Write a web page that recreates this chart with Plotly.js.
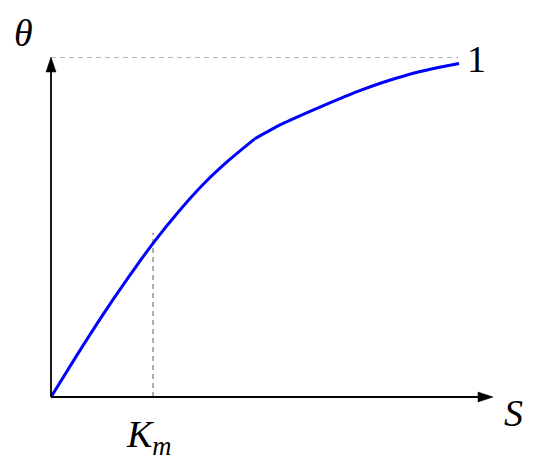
<!DOCTYPE html>
<html>
<head>
<meta charset="utf-8">
<script src="https://cdn.plot.ly/plotly-3.0.1.min.js"></script>
<style>html,body{margin:0;padding:0;background:#fff;}#chart{width:539px;height:468px;}</style>
</head>
<body>
<div id="chart"></div>
<script>
// Curve (S in units of Km, theta fraction); two pieces meeting at a corner at S = 2
var lowS      = [0, 0.25, 0.5, 0.75, 1.0, 1.25, 1.5, 1.75, 2.0];
var lowTheta  = [0, 0.121, 0.238, 0.348, 0.452, 0.545, 0.628, 0.698, 0.760];
var highS     = [2.0, 2.25, 2.5, 2.75, 3.0, 3.25, 3.5, 3.75, 4.0];
var highTheta = [0.760, 0.801, 0.835, 0.867, 0.898, 0.925, 0.948, 0.966, 0.981];
// guide lines
var kmS = [1.0, 1.0];
var kmTheta = [0, 0.482];
var oneS = [0, 3.99];
var oneTheta = [1, 1];
// axis extents
var xMax = 4.333;
var yMax = 1.0;

var serif = {family: 'Liberation Serif, DejaVu Serif, serif', size: 38, color: '#000'};
var guide = {color: '#6e6e6e', width: 1.1, dash: '5px,4px'};
var curve = {color: '#0000ff', width: 3, shape: 'spline', smoothing: 0.6, simplify: false};

var traces = [
  {x: oneS, y: oneTheta, mode: 'lines', line: guide, hoverinfo: 'skip'},
  {x: kmS, y: kmTheta, mode: 'lines', line: guide, hoverinfo: 'skip'},
  {x: lowS, y: lowTheta, mode: 'lines', line: curve, hoverinfo: 'skip'},
  {x: highS, y: highTheta, mode: 'lines', line: curve, hoverinfo: 'skip'}
];

var axHidden = {showgrid: false, zeroline: false, showticklabels: false, showline: false, ticks: '', fixedrange: true};

function label(txt, x, y) {
  return {x: x, y: y, xref: 'paper', yref: 'paper', text: txt, showarrow: false, font: serif, xanchor: 'center', yanchor: 'middle'};
}

// plot area 442 x 340 px; arrow heads ~14 px long, ~10 px wide
var hxLen = 15 / 442, hxHalf = 5 / 340;
var hyLen = 15 / 340, hyHalf = 5 / 442;

var layout = {
  width: 539, height: 468,
  margin: {l: 51, r: 46, t: 57, b: 71, pad: 0},
  paper_bgcolor: '#fff', plot_bgcolor: '#fff',
  showlegend: false,
  xaxis: Object.assign({range: [0, xMax]}, axHidden),
  yaxis: Object.assign({range: [0, yMax]}, axHidden),
  shapes: [
    {type: 'line', xref: 'paper', yref: 'paper', x0: 0, y0: 0, x1: 1 - hxLen * 0.8, y1: 0, line: {color: '#000', width: 1.8}},
    {type: 'line', xref: 'paper', yref: 'paper', x0: 0, y0: 0, x1: 0, y1: 1 - hyLen * 0.8, line: {color: '#000', width: 1.8}},
    {type: 'path', xref: 'paper', yref: 'paper', fillcolor: '#000', line: {color: '#000', width: 0.5},
     path: 'M1,0 L' + (1 - hxLen) + ',' + hxHalf + ' L' + (1 - hxLen) + ',' + (-hxHalf) + ' Z'},
    {type: 'path', xref: 'paper', yref: 'paper', fillcolor: '#000', line: {color: '#000', width: 0.5},
     path: 'M0,1 L' + hyHalf + ',' + (1 - hyLen) + ' L' + (-hyHalf) + ',' + (1 - hyLen) + ' Z'}
  ],
  annotations: [
    label('<i>θ</i>', -0.063, 1.072),
    label('1', 0.962, 0.995),
    label('<i>S</i>', 1.047, -0.046),
    label('<i>K</i><sub><i>m</i></sub>', 0.222, -0.118)
  ]
};

Plotly.newPlot('chart', traces, layout, {staticPlot: true, displayModeBar: false});
</script>
</body>
</html>
